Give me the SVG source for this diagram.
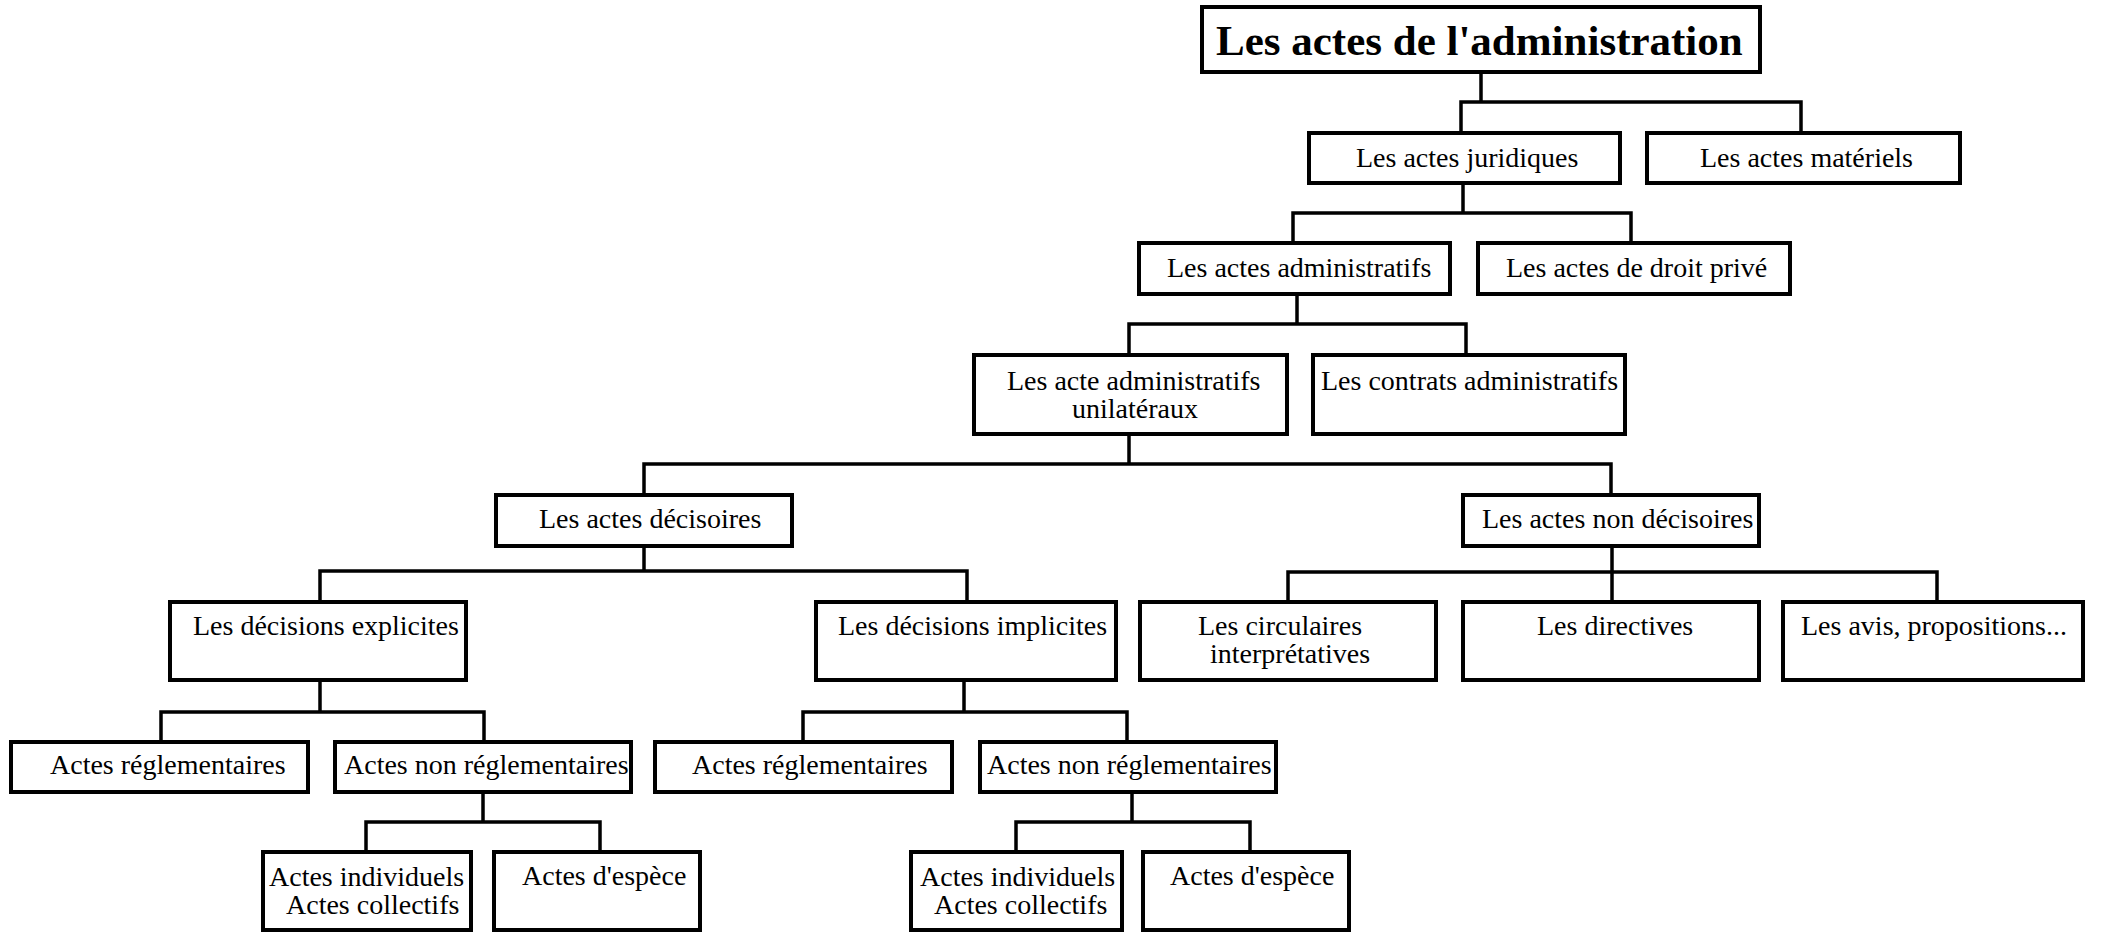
<svg xmlns="http://www.w3.org/2000/svg" width="2101" height="933" viewBox="0 0 2101 933">
<style>
.box{fill:#fff;stroke:#000;stroke-width:4}
.t{font-family:"Liberation Serif","Times New Roman",serif;font-size:28px;fill:#000}
.title{font-family:"Liberation Serif","Times New Roman",serif;font-size:43px;font-weight:bold;fill:#000}
.c{fill:none;stroke:#000;stroke-width:3.5;stroke-linecap:square}
</style>
<rect width="2101" height="933" fill="#fff"/>
<g id="connectors">
<path class="c" d="M1481 73V102M1461 133V102H1801V133"/>
<path class="c" d="M1463 184V213M1293 243V213H1631V243"/>
<path class="c" d="M1297 294V324M1129 355V324H1466V355"/>
<path class="c" d="M1129 435V464M644 495V464H1611V495"/>
<path class="c" d="M644 547V571M320 602V571H967V602"/>
<path class="c" d="M1612 547V602M1288 602V572H1937V602"/>
<path class="c" d="M320 680V712M161 742V712H484V742"/>
<path class="c" d="M964 680V712M803 742V712H1127V742"/>
<path class="c" d="M483 792V822M366 852V822H600V852"/>
<path class="c" d="M1132 792V822M1016 852V822H1250V852"/>
</g>
<g id="root"><rect class="box" x="1202" y="7" width="558" height="65"/><text class="title" x="1216" y="55">Les actes de l'administration</text></g>
<g id="juridiques"><rect class="box" x="1309" y="133" width="311" height="50"/><text class="t" x="1356" y="167">Les actes juridiques</text></g>
<g id="materiels"><rect class="box" x="1647" y="133" width="313" height="50"/><text class="t" x="1700" y="167">Les actes matériels</text></g>
<g id="administratifs"><rect class="box" x="1139" y="243" width="311" height="51"/><text class="t" x="1167" y="277">Les actes administratifs</text></g>
<g id="droit-prive"><rect class="box" x="1478" y="243" width="312" height="51"/><text class="t" x="1506" y="277">Les actes de droit privé</text></g>
<g id="unilateraux"><rect class="box" x="974" y="355" width="313" height="79"/><text class="t" x="1007" y="390">Les acte administratifs</text><text class="t" x="1072" y="418">unilatéraux</text></g>
<g id="contrats"><rect class="box" x="1313" y="355" width="312" height="79"/><text class="t" x="1321" y="390">Les contrats administratifs</text></g>
<g id="decisoires"><rect class="box" x="496" y="495" width="296" height="51"/><text class="t" x="539" y="528">Les actes décisoires</text></g>
<g id="non-decisoires"><rect class="box" x="1463" y="495" width="296" height="51"/><text class="t" x="1482" y="528">Les actes non décisoires</text></g>
<g id="explicites"><rect class="box" x="170" y="602" width="296" height="78"/><text class="t" x="193" y="635">Les décisions explicites</text></g>
<g id="implicites"><rect class="box" x="816" y="602" width="300" height="78"/><text class="t" x="838" y="635">Les décisions implicites</text></g>
<g id="circulaires"><rect class="box" x="1140" y="602" width="296" height="78"/><text class="t" x="1198" y="635">Les circulaires</text><text class="t" x="1210" y="663">interprétatives</text></g>
<g id="directives"><rect class="box" x="1463" y="602" width="296" height="78"/><text class="t" x="1537" y="635">Les directives</text></g>
<g id="avis"><rect class="box" x="1783" y="602" width="300" height="78"/><text class="t" x="1801" y="635">Les avis, propositions...</text></g>
<g id="reglementaires-1"><rect class="box" x="11" y="742" width="297" height="50"/><text class="t" x="50" y="774">Actes réglementaires</text></g>
<g id="non-reglementaires-1"><rect class="box" x="335" y="742" width="296" height="50"/><text class="t" x="344" y="774">Actes non réglementaires</text></g>
<g id="reglementaires-2"><rect class="box" x="655" y="742" width="297" height="50"/><text class="t" x="692" y="774">Actes réglementaires</text></g>
<g id="non-reglementaires-2"><rect class="box" x="980" y="742" width="296" height="50"/><text class="t" x="987" y="774">Actes non réglementaires</text></g>
<g id="individuels-1"><rect class="box" x="263" y="852" width="208" height="78"/><text class="t" x="269" y="886">Actes individuels</text><text class="t" x="286" y="914">Actes collectifs</text></g>
<g id="espece-1"><rect class="box" x="494" y="852" width="206" height="78"/><text class="t" x="522" y="885">Actes d'espèce</text></g>
<g id="individuels-2"><rect class="box" x="911" y="852" width="211" height="78"/><text class="t" x="920" y="886">Actes individuels</text><text class="t" x="934" y="914">Actes collectifs</text></g>
<g id="espece-2"><rect class="box" x="1143" y="852" width="206" height="78"/><text class="t" x="1170" y="885">Actes d'espèce</text></g>
</svg>
